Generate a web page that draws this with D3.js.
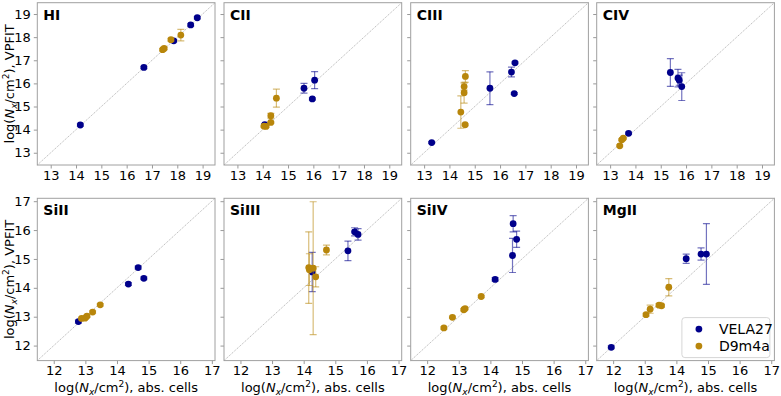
<!DOCTYPE html>
<html lang="en">
<head>
<meta charset="UTF-8">
<title>VPFIT vs abs. cells</title>
<style>
  body { margin: 0; background: #fff; }
  svg text { font-family: "DejaVu Sans", sans-serif; fill: #000; }
  .tick line { stroke: #999; }
  .tick text { font-size: 13px; }
  .frame { fill: none; stroke: #a0a0a0; stroke-width: 1; }
  .diag { stroke: #999; stroke-width: 0.7; stroke-dasharray: 1.2,1; }
</style>
</head>
<body>
<svg width="781" height="396"></svg>
<script src="https://cdn.jsdelivr.net/npm/d3@7"></script>
<script>
// ion names, one panel each
var ions = ["HI", "CII", "CIII", "CIV", "SiII", "SiIII", "SiIV", "MgII"];

// VELA27: abs. cells column density, VPFIT column density, VPFIT error
var velaAbs = [
  [14.17, 16.68, 17.86, 18.53, 18.79],
  [14.08, 15.63, 16.05, 15.96],
  [13.30, 15.60, 16.45, 16.59, 16.56],
  [13.73, 15.38, 15.68, 15.73, 15.83],
  [12.78, 14.36, 14.67, 14.85],
  [14.27, 15.40, 15.61, 15.72],
  [14.15, 14.72, 14.83, 14.70],
  [11.94, 14.31, 14.78, 14.95]
];
var velaVp = [
  [14.20, 16.69, 17.84, 18.53, 18.84],
  [14.21, 15.79, 16.14, 15.33],
  [13.44, 15.79, 16.49, 16.89, 15.56],
  [13.84, 16.47, 16.23, 16.14, 15.86],
  [12.83, 14.13, 14.70, 14.33],
  [14.55, 15.28, 15.94, 15.85],
  [14.29, 16.22, 15.68, 15.12],
  [11.94, 15.01, 15.17, 15.17]
];
var velaErr = [
  [0.05, 0.05, 0.05, 0.05, 0.05],
  [0.05, 0.21, 0.37, 0.04],
  [0.04, 0.71, 0.21, 0.04, 0.04],
  [0.05, 0.60, 0.38, 0.22, 0.60],
  [0.05, 0.05, 0.05, 0.05],
  [0.68, 0.34, 0.14, 0.20],
  [0.06, 0.28, 0.28, 0.59],
  [0.05, 0.16, 0.21, 1.05]
];

// D9m4a
var d9Abs = [
  [17.42, 17.48, 17.75, 18.14],
  [14.05, 14.13, 14.32, 14.32, 14.54],
  [14.63, 14.58, 14.58, 14.45, 14.62],
  [13.38, 13.46, 13.52],
  [12.88, 12.99, 13.05, 13.23, 13.47],
  [14.16, 14.18, 14.30, 14.38, 14.72],
  [12.53, 12.80, 13.16, 13.20, 13.71],
  [13.04, 13.17, 13.45, 13.53, 13.76]
];
var d9Vp = [
  [17.46, 17.51, 17.89, 18.09],
  [14.15, 14.14, 14.31, 14.60, 15.36],
  [16.30, 15.86, 15.60, 14.76, 14.21],
  [13.30, 13.56, 13.63],
  [12.94, 12.95, 13.02, 13.16, 13.41],
  [14.70, 14.63, 14.68, 14.38, 15.31],
  [12.61, 12.98, 13.24, 13.28, 13.70],
  [13.07, 13.26, 13.40, 13.38, 14.02]
];
var d9Err = [
  [0.05, 0.05, 0.06, 0.25],
  [0.04, 0.04, 0.04, 0.10, 0.39],
  [0.25, 0.15, 0.45, 0.70, 0.04],
  [0.04, 0.04, 0.04],
  [0.04, 0.04, 0.04, 0.04, 0.04],
  [1.24, 0.55, 2.30, 0.35, 0.17],
  [0.04, 0.04, 0.04, 0.04, 0.04],
  [0.05, 0.14, 0.05, 0.05, 0.30]
];

var topTicks = [13, 14, 15, 16, 17, 18, 19];
var bottomTicks = [12, 13, 14, 15, 16, 17];

var blue = "#00008b", gold = "#b8860b";

var svg = d3.select("svg");
var lefts = [37.3, 224, 410.7, 596.7];
var tops = [2.7, 198.3];
var pw = 177.7, ph = 162.3;
var fmt = d3.format("d");

function axisLabel(sel, tail) {
  sel.append("tspan").text("log(");
  sel.append("tspan").attr("font-style", "italic").text("N");
  sel.append("tspan").attr("font-style", "italic").attr("font-size", "9px").attr("dy", 3).text("x");
  sel.append("tspan").attr("dy", -3).text("/cm");
  sel.append("tspan").attr("font-size", "9px").attr("dy", -5).text("2");
  sel.append("tspan").attr("dy", 5).text("), " + tail);
}

ions.forEach(function (ion, k) {
  var row = Math.floor(k / 4), col = k % 4;
  var dom = row === 0 ? [12.47, 19.49] : [11.48, 17.1];
  var ticks = row === 0 ? topTicks : bottomTicks;

  var x = d3.scaleLinear().domain(dom).range([0, pw]);
  var y = d3.scaleLinear().domain(dom).range([ph, 0]);

  var g = svg.append("g")
    .attr("transform", "translate(" + lefts[col] + "," + tops[row] + ")");

  g.append("defs").append("clipPath").attr("id", "clip" + k)
    .append("rect").attr("width", pw).attr("height", ph);

  // one-to-one line
  g.append("line").attr("class", "diag")
    .attr("x1", x(dom[0])).attr("y1", y(dom[0]))
    .attr("x2", x(dom[1])).attr("y2", y(dom[1]));

  var xa = g.append("g").attr("transform", "translate(0," + ph + ")")
    .call(d3.axisBottom(x).tickValues(ticks).tickSize(3.5).tickPadding(2).tickFormat(fmt));
  var ya = g.append("g")
    .call(d3.axisLeft(y).tickValues(ticks).tickSize(3.5).tickPadding(3).tickFormat(col === 0 ? fmt : ""));
  xa.select(".domain").remove();
  ya.select(".domain").remove();

  var plot = g.append("g").attr("clip-path", "url(#clip" + k + ")");

  function series(xs, ys, es, color) {
    var pts = xs.map(function (v, i) { return { x: v, y: ys[i], e: es[i] }; });
    var eb = plot.append("g").attr("stroke", color).attr("stroke-opacity", 0.55).attr("stroke-width", 1.2);
    pts.forEach(function (d) {
      var cx = x(d.x);
      eb.append("line").attr("x1", cx).attr("x2", cx).attr("y1", y(d.y - d.e)).attr("y2", y(d.y + d.e));
      eb.append("line").attr("x1", cx - 3.5).attr("x2", cx + 3.5).attr("y1", y(d.y - d.e)).attr("y2", y(d.y - d.e));
      eb.append("line").attr("x1", cx - 3.5).attr("x2", cx + 3.5).attr("y1", y(d.y + d.e)).attr("y2", y(d.y + d.e));
    });
    plot.append("g").selectAll("circle").data(pts).enter().append("circle")
      .attr("cx", function (d) { return x(d.x); })
      .attr("cy", function (d) { return y(d.y); })
      .attr("r", 3.4)
      .attr("fill", color);
  }
  series(velaAbs[k], velaVp[k], velaErr[k], blue);
  series(d9Abs[k], d9Vp[k], d9Err[k], gold);

  g.append("rect").attr("class", "frame").attr("width", pw).attr("height", ph);

  g.append("text").attr("x", 6).attr("y", 17)
    .style("font-weight", "bold").style("font-size", "14px").text(ion);

  if (col === 0) {
    g.append("text")
      .attr("transform", "translate(-23," + ph / 2 + ") rotate(-90)")
      .attr("text-anchor", "middle").style("font-size", "13px")
      .call(axisLabel, "VPFIT");
  }
  if (row === 1) {
    g.append("text")
      .attr("x", pw / 2).attr("y", ph + 31)
      .attr("text-anchor", "middle").style("font-size", "13px")
      .call(axisLabel, "abs. cells");
  }

  if (k === 7) {
    var lg = g.append("g").attr("transform", "translate(" + (pw - 92.5) + "," + (ph - 43) + ")");
    lg.append("rect").attr("width", 88).attr("height", 40).attr("rx", 3)
      .attr("fill", "#fff").attr("fill-opacity", 0.8).attr("stroke", "#d6d6d6");
    var names = ["VELA27", "D9m4a"], cols = [blue, gold];
    names.forEach(function (n, i) {
      lg.append("circle").attr("cx", 17).attr("cy", 11.5 + i * 17).attr("r", 3.4).attr("fill", cols[i]);
      lg.append("text").attr("x", 37).attr("y", 16.5 + i * 17).style("font-size", "14px").text(n);
    });
  }
});
</script>
</body>
</html>
